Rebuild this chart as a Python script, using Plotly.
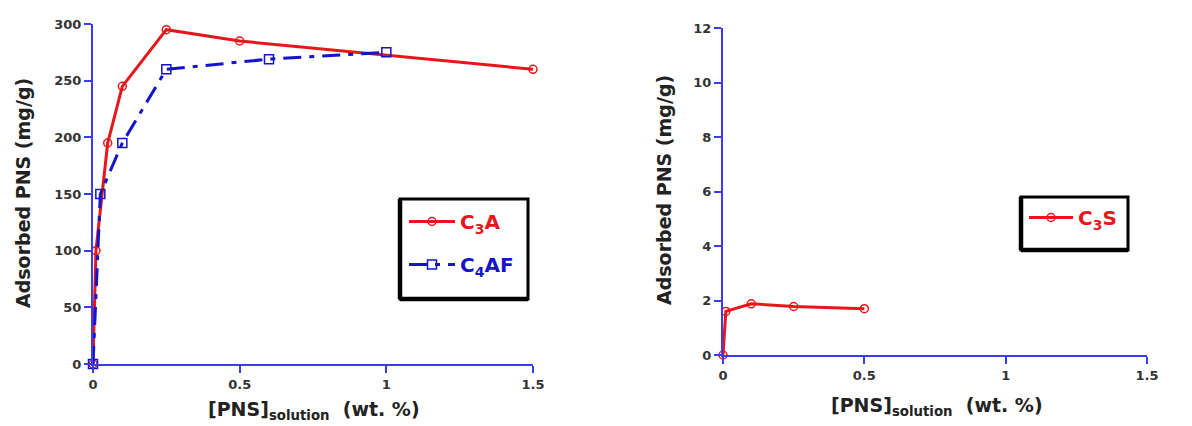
import plotly.graph_objects as go

# ---- data ----
c3a_x = [0, 0.01, 0.05, 0.1, 0.25, 0.5, 1.5]
c3a_y = [0, 100, 195, 245, 295, 285, 260]

c4af_x = [0, 0.025, 0.1, 0.25, 0.6, 1.0]
c4af_y = [0, 150, 195, 260, 269, 275]

c3s_x = [0, 0.01, 0.1, 0.25, 0.5]
c3s_y = [0, 1.6, 1.88, 1.78, 1.7]

x_ticks = [0, 0.5, 1, 1.5]
x_ticktext = ["0", "0.5", "1", "1.5"]
y1_ticks = [0, 50, 100, 150, 200, 250, 300]
y2_ticks = [0, 2, 4, 6, 8, 10, 12]

# the page body has an 8px margin, so the figure starts at (8, 8)
OFF = 8
W, H = 1192 - OFF, 426 - OFF
FONT = "DejaVu Sans, Arial, sans-serif"
RED = "#e8161b"
BLUE = "#1414cc"
AXIS = "#3b3bf2"
TICKC = "#333333"

def px(x):
    return (x - OFF) / W

def py(y):
    return 1 - (y - OFF) / H

fig = go.Figure()

fig.add_trace(go.Scatter(
    x=c3a_x, y=c3a_y, mode="lines+markers", xaxis="x", yaxis="y",
    name='<span style="color:%s"><b>C<sub>3</sub>A</b></span>' % RED,
    line=dict(color=RED, width=3),
    marker=dict(symbol="circle-open", size=8, color=RED, line=dict(width=1.5)),
    cliponaxis=False, legend="legend", legendgroup="a"))

fig.add_trace(go.Scatter(
    x=c4af_x, y=c4af_y, mode="lines+markers", xaxis="x", yaxis="y",
    name='<span style="color:%s"><b>C<sub>4</sub>AF</b></span>' % BLUE,
    line=dict(color=BLUE, width=3, dash="18px,8px,5px,8px"),
    marker=dict(symbol="square-open", size=9, color=BLUE, line=dict(width=1.5)),
    cliponaxis=False, legend="legend", legendgroup="b"))

fig.add_trace(go.Scatter(
    x=c3s_x, y=c3s_y, mode="lines+markers", xaxis="x2", yaxis="y2",
    name='<span style="color:%s"><b>C<sub>3</sub>S</b></span>' % RED,
    line=dict(color=RED, width=3),
    marker=dict(symbol="circle-open", size=8, color=RED, line=dict(width=1.5)),
    cliponaxis=False, legend="legend2", legendgroup="c"))

axis_common = dict(
    showgrid=False, zeroline=False, showline=True, linecolor=AXIS, linewidth=2,
    ticks="outside", ticklen=7, tickwidth=2, tickcolor=AXIS,
    tickfont=dict(family=FONT, size=13, color=TICKC, weight="bold"),
    mirror=False, automargin=False,
)

fig.update_layout(
    width=W, height=H,
    margin=dict(l=0, r=0, t=0, b=0, autoexpand=False),
    paper_bgcolor="white", plot_bgcolor="white",
    xaxis=dict(domain=[px(93), px(533)], range=[0, 1.5], tickvals=x_ticks,
               ticktext=x_ticktext, anchor="y", **axis_common),
    yaxis=dict(domain=[py(364), py(24)], range=[0, 300], tickvals=y1_ticks,
               anchor="x", **axis_common),
    xaxis2=dict(domain=[px(723), px(1147)], range=[0, 1.5], tickvals=x_ticks,
                ticktext=x_ticktext, anchor="y2", **axis_common),
    yaxis2=dict(domain=[py(355), py(28)], range=[0, 12], tickvals=y2_ticks,
                anchor="x2", **axis_common),
    legend=dict(x=px(404), y=py(202), xanchor="left", yanchor="top",
                bgcolor="rgba(0,0,0,0)", borderwidth=0, itemwidth=46,
                font=dict(family=FONT, size=20), tracegroupgap=14,
                traceorder="grouped"),
    legend2=dict(x=px(1024), y=py(198), xanchor="left", yanchor="top",
                 bgcolor="rgba(0,0,0,0)", borderwidth=0, itemwidth=44,
                 font=dict(family=FONT, size=20)),
    showlegend=True,
)

# legend frames (heavier left and bottom edges, as in the reference)
for (x0, x1, y0, y1) in [(400, 528, 299, 199), (1021, 1128, 250, 197)]:
    fig.add_shape(type="rect", xref="paper", yref="paper",
                  x0=px(x0), x1=px(x1), y0=py(y0), y1=py(y1),
                  line=dict(color="black", width=3))
    fig.add_shape(type="line", xref="paper", yref="paper",
                  x0=px(x0), x1=px(x0), y0=py(y0), y1=py(y1),
                  line=dict(color="black", width=4.5))
    fig.add_shape(type="line", xref="paper", yref="paper",
                  x0=px(x0), x1=px(x1), y0=py(y0), y1=py(y0),
                  line=dict(color="black", width=4.5))

title_font = dict(family=FONT, size=19, color="#222222")
ytitle = "<b>Adsorbed PNS (mg/g)</b>"
xtitle = "<b>[PNS]<sub>solution</sub>  (wt. %)</b>"

fig.add_annotation(text=ytitle, xref="paper", yref="paper", x=px(23), y=py(193),
                   textangle=-90, showarrow=False, font=title_font,
                   xanchor="center", yanchor="middle")
fig.add_annotation(text=ytitle, xref="paper", yref="paper", x=px(664), y=py(190),
                   textangle=-90, showarrow=False, font=title_font,
                   xanchor="center", yanchor="middle")
fig.add_annotation(text=xtitle, xref="paper", yref="paper", x=px(314), y=py(396),
                   showarrow=False, font=title_font, xanchor="center", yanchor="top")
fig.add_annotation(text=xtitle, xref="paper", yref="paper", x=px(937), y=py(392),
                   showarrow=False, font=title_font, xanchor="center", yanchor="top")

fig.write_html("out.html")
